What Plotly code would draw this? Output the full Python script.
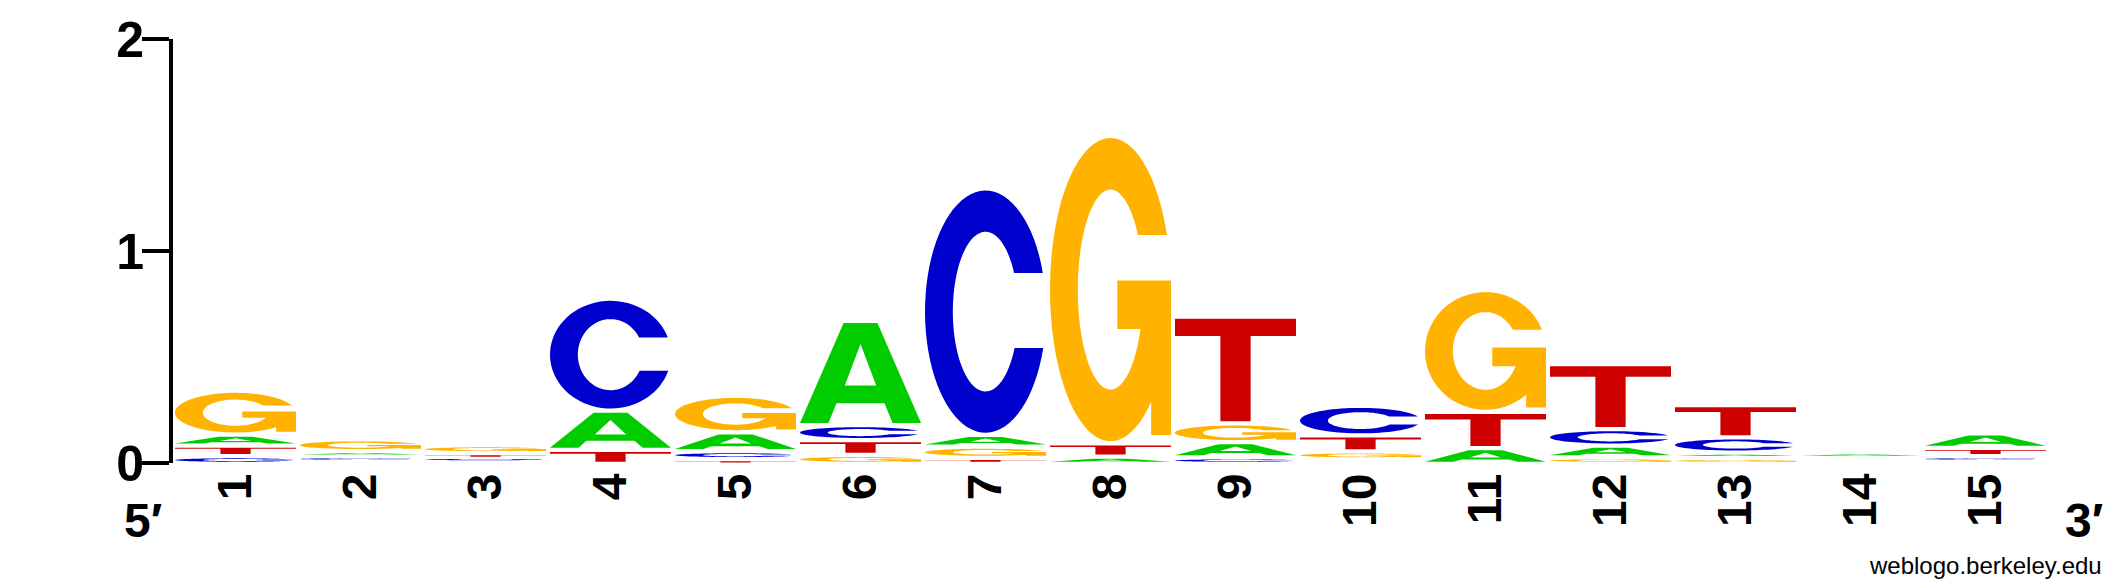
import math
import plotly.graph_objects as go

# ---------------- data (bits per base, per position) ----------------
positions = list(range(1, 16))
tick_labels = [str(p) for p in positions]
y_tick_values = [0, 1, 2]
y_tick_labels = ["0", "1", "2"]

A_bits = [0.052, 0.024, 0.007, 0.185, 0.089, 0.491, 0.056, 0.020, 0.071, 0.007, 0.060, 0.055, 0.025, 0.019, 0.069]
C_bits = [0.022, 0.015, 0.012, 0.528, 0.038, 0.071, 1.162, 0.000, 0.017, 0.140, 0.000, 0.078, 0.072, 0.007, 0.015]
G_bits = [0.207, 0.056, 0.038, 0.000, 0.172, 0.028, 0.053, 1.450, 0.089, 0.038, 0.575, 0.017, 0.014, 0.007, 0.007]
T_bits = [0.050, 0.007, 0.017, 0.052, 0.008, 0.070, 0.014, 0.063, 0.504, 0.075, 0.171, 0.306, 0.152, 0.007, 0.039]

colors = {"A": "#00CC00", "C": "#0000CC", "G": "#FFB300", "T": "#CC0000"}

# ---------------- glyph outlines in a unit box ----------------
def arc(cx, cy, rx, ry, a0, a1, n=48):
    return [(cx + rx * math.cos(a0 + (a1 - a0) * k / n),
             cy + ry * math.sin(a0 + (a1 - a0) * k / n)) for k in range(n + 1)]

def glyph_T():
    bar = 0.83
    return [[(0, bar), (0, 1), (1, 1), (1, bar), (0.625, bar), (0.625, 0),
             (0.375, 0), (0.375, bar)]]

def glyph_A():
    outer = [(0, 0), (0.235, 0), (0.302, 0.197), (0.698, 0.197), (0.765, 0),
             (1, 0), (0.64, 1), (0.36, 1)]
    hole = [(0.37, 0.375), (0.5, 0.79), (0.63, 0.375)]
    return [outer, hole]

RXI, RYI = 0.27, 0.33

def glyph_C():
    vt, vb = 0.66, 0.35
    a1 = math.asin((vt - 0.5) / 0.5)
    a2 = 2 * math.pi + math.asin((vb - 0.5) / 0.5)
    b1 = math.asin((vt - 0.5) / RYI)
    b2 = 2 * math.pi + math.asin((vb - 0.5) / RYI)
    pts = arc(0.5, 0.5, 0.5, 0.5, a1, a2, 72) + arc(0.5, 0.5, RXI, RYI, b2, b1, 72)
    return [pts]

def glyph_G():
    vt = 0.68
    bar_top, bar_bot, bar_left, stem_in, spur = 0.53, 0.37, 0.556, 0.836, 0.02
    a1 = math.asin((vt - 0.5) / 0.5)
    a2 = 2 * math.pi - math.acos((stem_in - 0.5) / 0.5)
    outer = arc(0.5, 0.5, 0.5, 0.5, a1, a2, 72)
    b_start = math.asin((bar_bot - 0.5) / RYI)
    b_end = math.asin((vt - 0.5) / RYI) - 2 * math.pi
    inner_start_u = 0.5 + RXI * math.cos(b_start)
    pts = outer + [(stem_in, spur), (1.0, spur), (1.0, bar_top), (bar_left, bar_top),
                   (bar_left, bar_bot), (inner_start_u, bar_bot)]
    pts += arc(0.5, 0.5, RXI, RYI, b_start, b_end, 72)
    return [pts]

GLYPHS = {"A": glyph_A(), "C": glyph_C(), "G": glyph_G(), "T": glyph_T()}

# ---------------- build the stacks ----------------
BOTTOM_GAP, GAP, MIN_THICK, HIDE = 0.006, 0.02, 0.006, 0.008
COL_W = 0.968

shapes = []
totals = []
for i, pos in enumerate(positions):
    col = [("A", A_bits[i]), ("C", C_bits[i]), ("G", G_bits[i]), ("T", T_bits[i])]
    col = sorted([c for c in col if c[1] > 0], key=lambda c: c[1])
    y0 = 0.0
    for k, (base, h) in enumerate(col):
        top = y0 + h
        if h >= HIDE:
            gap = BOTTOM_GAP if k == 0 else GAP
            gh = max(h - gap, MIN_THICK)
            bottom = top - gh
            path = ""
            for sub in GLYPHS[base]:
                coords = [(pos - COL_W / 2 + COL_W * u, bottom + gh * v) for u, v in sub]
                path += "M" + " L".join(f"{x:.5f},{y:.5f}" for x, y in coords) + " Z "
            shapes.append(dict(type="path", path=path.strip(), xref="x", yref="y",
                               fillcolor=colors[base], line=dict(width=0), layer="above"))
        y0 = top
    totals.append(y0)

# ---------------- figure ----------------
W, H = 2125, 588
L, R, T_, B = 173, 77, 39, 125
PW, PH = W - L - R, H - T_ - B

def px_x(px):
    return (px - L) / PW

def px_y(py):
    return (H - B - py) / PH

fig = go.Figure()
fig.add_trace(go.Scatter(x=positions, y=totals, mode="markers",
                         marker=dict(opacity=0, size=1), hoverinfo="skip", showlegend=False))

FAM = "Liberation Sans, Arial, sans-serif"
xfont = dict(family=FAM, size=48, color="black", weight="bold")
yfont = dict(family=FAM, size=50, color="black", weight="bold")

fig.update_layout(
    width=W, height=H,
    margin=dict(l=L, r=R, t=T_, b=B, pad=0),
    paper_bgcolor="white", plot_bgcolor="white",
    shapes=shapes,
    showlegend=False,
    xaxis=dict(range=[0.5, 15.5], tickmode="array", tickvals=positions, ticktext=tick_labels,
               tickangle=-90, tickfont=xfont, showline=False, showgrid=False, zeroline=False,
               ticks="", fixedrange=True),
    yaxis=dict(range=[0, 2], tickmode="array", tickvals=y_tick_values, ticktext=y_tick_labels,
               tickfont=yfont, ticks="outside", ticklen=27, tickwidth=4, tickcolor="black",
               ticklabelstandoff=-12,
               showline=True, linewidth=4, linecolor="black", showgrid=False, zeroline=False,
               fixedrange=True),
    annotations=[
        dict(text="5′", xref="paper", yref="paper", x=px_x(164), y=px_y(520.5),
             xanchor="right", yanchor="middle", showarrow=False, font=xfont),
        dict(text="3′", xref="paper", yref="paper", x=px_x(2063), y=px_y(520.5),
             xanchor="left", yanchor="middle", showarrow=False, font=xfont),
        dict(text="weblogo.berkeley.edu", xref="paper", yref="paper", x=px_x(2104), y=px_y(565),
             xanchor="right", yanchor="middle", showarrow=False,
             font=dict(family=FAM, size=24, color="black")),
    ],
)

fig.write_html("out.html", config={"displayModeBar": False},
               post_script="document.body.style.margin='0px';document.body.style.overflow='hidden';")
